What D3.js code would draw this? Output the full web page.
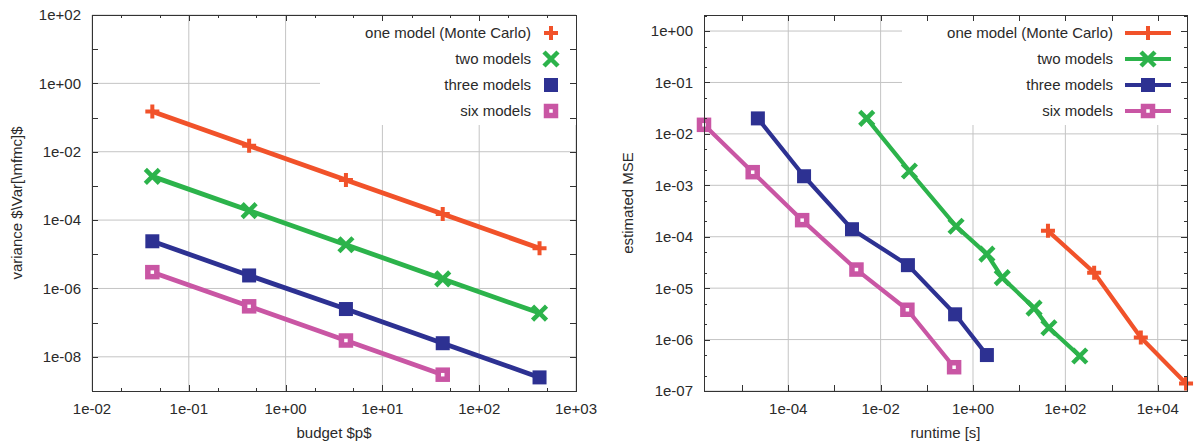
<!DOCTYPE html>
<html>
<head>
<meta charset="utf-8">
<script src="https://cdn.jsdelivr.net/npm/d3@7"></script>
<style>
  body { margin: 0; background: #fff; }
  svg { display: block; font-family: "Liberation Sans", Arial, sans-serif; }
  .tick-label, .axis-label, .legend-label { font-size: 15px; fill: #2a2a2a; }
</style>
</head>
<body>
<svg id="chart" width="1195" height="448"></svg>
<script>
// Series names and colours
const seriesNames = ['one model (Monte Carlo)', 'two models', 'three models', 'six models']
const seriesColors = ['#f1522a', '#2cb34b', '#2d3192', '#c956a4']
const seriesMarkers = ['plus', 'cross', 'square', 'hollow']

// Left panel: variance vs budget
const budget = [0.042, 0.42, 4.2, 42, 420]
const varOne = [1.5e-1, 1.5e-2, 1.5e-3, 1.5e-4, 1.5e-5]
const varTwo = [1.9e-3, 1.9e-4, 1.9e-5, 1.9e-6, 1.9e-7]
const varThree = [2.4e-5, 2.4e-6, 2.5e-7, 2.5e-8, 2.5e-9]
const varSix = [3.0e-6, 3.0e-7, 3.0e-8, 3.0e-9]

// Right panel: estimated MSE vs runtime
const runOne = [42, 420, 4300, 41000]
const mseOne = [1.3e-4, 2.0e-5, 1.1e-6, 1.4e-7]
const runTwo = [5.0e-3, 4.2e-2, 4.3e-1, 2.0, 4.3, 21, 44, 205]
const mseTwo = [2.0e-2, 1.9e-3, 1.6e-4, 4.6e-5, 1.6e-5, 4.1e-6, 1.7e-6, 4.8e-7]
const runThree = [2.2e-5, 2.2e-4, 2.4e-3, 3.9e-2, 4.1e-1, 2.0]
const mseThree = [2.0e-2, 1.5e-3, 1.4e-4, 2.8e-5, 3.1e-6, 5.0e-7]
const runSix = [1.5e-6, 1.7e-5, 2.0e-4, 3.0e-3, 3.8e-2, 3.9e-1]
const mseSix = [1.5e-2, 1.8e-3, 2.1e-4, 2.3e-5, 3.8e-6, 2.9e-7]

// Tick exponents (labelled ones get a grid line)
const leftXLabels = [-2, -1, 0, 1, 2, 3]
const leftYLabels = [2, 0, -2, -4, -6, -8]
const rightXLabels = [-4, -2, 0, 2, 4]
const rightYLabels = [0, -1, -2, -3, -4, -5, -6, -7]

const zip = (xs, ys) => xs.map((x, i) => [x, ys[i]])
const expLabel = e => '1e' + (e < 0 ? '-' : '+') + String(Math.abs(e)).padStart(2, '0')

const svg = d3.select('#chart')

function drawMarker (g, type, color, x, y) {
  const s = 7
  if (type === 'plus') {
    g.append('path').attr('d', `M${x - s},${y}H${x + s}M${x},${y - s}V${y + s}`)
      .attr('stroke', color).attr('stroke-width', 4).attr('fill', 'none')
  } else if (type === 'cross') {
    g.append('path').attr('d', `M${x - s},${y - s}L${x + s},${y + s}M${x - s},${y + s}L${x + s},${y - s}`)
      .attr('stroke', color).attr('stroke-width', 4.5).attr('fill', 'none')
  } else if (type === 'square') {
    g.append('rect').attr('x', x - s).attr('y', y - s).attr('width', 2 * s).attr('height', 2 * s)
      .attr('fill', color)
  } else {
    g.append('rect').attr('x', x - 4.5).attr('y', y - 4.5).attr('width', 9).attr('height', 9)
      .attr('fill', '#fff').attr('stroke', color).attr('stroke-width', 5.5)
  }
}

function drawPanel (cfg) {
  const { left, right, top, bottom } = cfg
  const x = d3.scaleLog().domain(cfg.xDomain).range([left, right])
  const y = d3.scaleLog().domain(cfg.yDomain).range([bottom, top])
  const g = svg.append('g')

  // grid at labelled decades
  g.selectAll('.gx').data(cfg.xLabels).enter().append('line')
    .attr('x1', e => x(Math.pow(10, e))).attr('x2', e => x(Math.pow(10, e)))
    .attr('y1', top).attr('y2', bottom)
    .attr('stroke', '#c4c4c4').attr('stroke-width', 1)
  g.selectAll('.gy').data(cfg.yLabels).enter().append('line')
    .attr('y1', e => y(Math.pow(10, e))).attr('y2', e => y(Math.pow(10, e)))
    .attr('x1', left).attr('x2', right)
    .attr('stroke', '#c4c4c4').attr('stroke-width', 1)

  // opaque key box
  g.append('rect').attr('x', cfg.keyLeft).attr('y', top)
    .attr('width', right - cfg.keyLeft).attr('height', cfg.keyBottom - top)
    .attr('fill', '#fff')

  // series
  const line = d3.line().x(d => x(d[0])).y(d => y(d[1]))
  cfg.series.forEach((pts, i) => {
    g.append('path').datum(pts).attr('d', line)
      .attr('fill', 'none').attr('stroke', seriesColors[i])
      .attr('stroke-width', cfg.lineWidth).attr('stroke-linejoin', 'round')
    pts.forEach(p => drawMarker(g, seriesMarkers[i], seriesColors[i], x(p[0]), y(p[1])))
  })

  // ticks (inward, mirrored)
  const mant = v => v / Math.pow(10, Math.floor(Math.log10(v) + 1e-9))
  const near = (a, b) => Math.abs(a - b) < 1e-6
  const isMajor = v => near(mant(v), 1)
  const xTicks = x.ticks(20).filter(v => isMajor(v) || (cfg.xMinor && (near(mant(v), 2) || near(mant(v), 5))))
  const yTicks = y.ticks(40).filter(v => isMajor(v) || (cfg.yMinor && (near(mant(v), 2) || near(mant(v), 5))))
  const tk = g.append('g').attr('stroke', '#333').attr('stroke-width', 1)
  xTicks.forEach(v => {
    const len = isMajor(v) ? 6 : 3
    const px = Math.round(x(v)) + 0.5
    tk.append('line').attr('x1', px).attr('x2', px).attr('y1', bottom).attr('y2', bottom - len)
    tk.append('line').attr('x1', px).attr('x2', px).attr('y1', top).attr('y2', top + len)
  })
  yTicks.forEach(v => {
    const len = isMajor(v) ? 6 : 3
    const py = Math.round(y(v)) + 0.5
    tk.append('line').attr('y1', py).attr('y2', py).attr('x1', left).attr('x2', left + len)
    tk.append('line').attr('y1', py).attr('y2', py).attr('x1', right).attr('x2', right - len)
  })

  // frame
  g.append('rect').attr('x', left + 0.5).attr('y', top + 0.5)
    .attr('width', right - left).attr('height', bottom - top)
    .attr('fill', 'none').attr('stroke', '#333').attr('stroke-width', 1)

  // tick labels
  g.selectAll('.lx').data(cfg.xLabels).enter().append('text')
    .attr('class', 'tick-label')
    .attr('x', e => x(Math.pow(10, e))).attr('y', 414)
    .attr('text-anchor', 'middle').text(expLabel)
  g.selectAll('.ly').data(cfg.yLabels).enter().append('text')
    .attr('class', 'tick-label')
    .attr('x', left - 11).attr('y', e => y(Math.pow(10, e))).attr('dy', '0.36em')
    .attr('text-anchor', 'end').text(expLabel)

  // axis labels
  g.append('text').attr('class', 'axis-label')
    .attr('x', (left + right) / 2).attr('y', 438)
    .attr('text-anchor', 'middle').text(cfg.xTitle)
  g.append('text').attr('class', 'axis-label')
    .attr('transform', `translate(${cfg.yTitleX},${(top + bottom) / 2}) rotate(-90)`)
    .attr('text-anchor', 'middle').text(cfg.yTitle)

  // legend
  seriesNames.forEach((name, i) => {
    const ly = top + 18 + i * 26
    g.append('text').attr('class', 'legend-label')
      .attr('x', cfg.keyTextX).attr('y', ly).attr('dy', '0.36em')
      .attr('text-anchor', 'end').text(name)
    if (cfg.keyLine) {
      g.append('line').attr('x1', cfg.keyMarkX - 23).attr('x2', cfg.keyMarkX + 23)
        .attr('y1', ly).attr('y2', ly)
        .attr('stroke', seriesColors[i]).attr('stroke-width', cfg.lineWidth)
    }
    drawMarker(g, seriesMarkers[i], seriesColors[i], cfg.keyMarkX, ly)
  })
}

drawPanel({
  left: 92, right: 576, top: 15, bottom: 391,
  xDomain: [1e-2, 1e3], yDomain: [1e-9, 1e2],
  xLabels: leftXLabels, yLabels: leftYLabels,
  xMinor: true, yMinor: false,
  series: [zip(budget, varOne), zip(budget, varTwo), zip(budget, varThree), zip(budget.slice(0, 4), varSix)],
  lineWidth: 4.8,
  xTitle: 'budget $p$', yTitle: 'variance $\\Var[\\mfmc]$', yTitleX: 22,
  keyLeft: 320, keyBottom: 125, keyTextX: 531, keyMarkX: 551, keyLine: false
})

drawPanel({
  left: 704, right: 1187, top: 15, bottom: 391,
  xDomain: [1.5e-6, 4.3e4], yDomain: [1e-7, 2.05],
  xLabels: rightXLabels, yLabels: rightYLabels,
  xMinor: false, yMinor: true,
  series: [zip(runOne, mseOne), zip(runTwo, mseTwo), zip(runThree, mseThree), zip(runSix, mseSix)],
  lineWidth: 4.2,
  xTitle: 'runtime [s]', yTitle: 'estimated MSE', yTitleX: 633,
  keyLeft: 902, keyBottom: 125, keyTextX: 1113, keyMarkX: 1148, keyLine: true
})
</script>
</body>
</html>
